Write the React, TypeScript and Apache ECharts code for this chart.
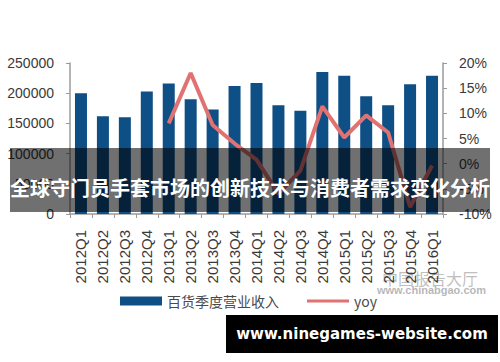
import React, { useEffect, useRef } from "react";
import * as echarts from "echarts";

const categories = [
  "2012Q1", "2012Q2", "2012Q3", "2012Q4",
  "2013Q1", "2013Q2", "2013Q3", "2013Q4",
  "2014Q1", "2014Q2", "2014Q3", "2014Q4",
  "2015Q1", "2015Q2", "2015Q3", "2015Q4", "2016Q1",
];
const revenue = [
  200000, 162000, 160000, 203000,
  216000, 190000, 173000, 212000,
  217000, 180000, 171000, 235000,
  229000, 195000, 180000, 215000, 229000,
];
const yoy = [
  null, null, null, null,
  8, 18, 7.7, 4,
  0.8, -6, -1.4, 11.4,
  5.2, 9.6, 6.2, -8.6, -0.4,
];
const seriesNames = ["百货季度营业收入", "yoy"];
const titleText = "全球守门员手套市场的创新技术与消费者需求变化分析";
const siteText = "www.ninegames-website.com";

export default function App() {
  const ref = useRef<HTMLDivElement>(null);
  useEffect(() => {
    if (!ref.current) return;
    const chart = echarts.init(ref.current, null, { renderer: "svg" });
    const axisColor = "#9a9a9a";
    const labelColor = "#3a3a3a";
    const font = "'Liberation Sans', Arial, sans-serif";
    const legendText = { color: "#4a4a4a", fontSize: 14, fontFamily: "'Noto Sans CJK SC', sans-serif" };
    chart.setOption({
      animation: false,
      backgroundColor: "#ffffff",
      grid: { left: 70, right: 57, top: 63, bottom: 148, containLabel: false },
      legend: [
        {
          left: 115,
          top: 289,
          itemWidth: 42,
          itemHeight: 9,
          textStyle: legendText,
          data: [{ name: seriesNames[0], icon: "rect" }],
        },
        {
          left: 302,
          top: 289,
          itemWidth: 42,
          itemHeight: 3,
          textStyle: legendText,
          data: [{ name: seriesNames[1], icon: "rect" }],
        },
      ],
      xAxis: {
        type: "category",
        data: categories,
        boundaryGap: true,
        axisLine: { show: true, lineStyle: { color: axisColor, width: 1.5 } },
        axisTick: { show: true, length: 4, lineStyle: { color: axisColor } },
        axisLabel: {
          rotate: 90,
          margin: 16,
          fontSize: 15,
          color: labelColor,
          fontFamily: font,
          interval: 0,
        },
      },
      yAxis: [
        {
          type: "value",
          min: 0,
          max: 250000,
          interval: 50000,
          splitLine: { show: false },
          axisLine: { show: true, lineStyle: { color: axisColor, width: 1.5 } },
          axisTick: { show: true, length: 4, lineStyle: { color: axisColor } },
          axisLabel: {
            fontSize: 14,
            color: labelColor,
            fontFamily: font,
            margin: 16,
            formatter: (v: number) => String(v),
          },
        },
        {
          type: "value",
          min: -10,
          max: 20,
          interval: 5,
          position: "right",
          splitLine: { show: false },
          axisLine: { show: true, lineStyle: { color: axisColor, width: 1.5 } },
          axisTick: { show: true, length: 4, lineStyle: { color: axisColor } },
          axisLabel: {
            fontSize: 14,
            color: labelColor,
            fontFamily: font,
            margin: 16,
            formatter: "{value}%",
          },
        },
      ],
      series: [
        {
          name: seriesNames[0],
          type: "bar",
          data: revenue,
          barWidth: 12,
          itemStyle: { color: "#0e4f86" },
        },
        {
          name: seriesNames[1],
          type: "line",
          yAxisIndex: 1,
          data: yoy,
          symbol: "none",
          connectNulls: false,
          lineStyle: { color: "#e07272", width: 4 },
          itemStyle: { color: "#e07272" },
        },
      ],
      graphic: [
        {
          type: "text",
          left: 382,
          top: 270,
          style: {
            text: "中国报告大厅",
            fill: "rgba(110,110,110,0.45)",
            font: "16px 'Noto Sans CJK SC', sans-serif",
          },
        },
        {
          type: "text",
          left: 377,
          top: 284,
          style: {
            text: "www.chinabgao.com",
            fill: "rgba(110,110,110,0.5)",
            font: "bold 11px 'Liberation Sans', Arial, sans-serif",
          },
        },
        {
          type: "rect",
          shape: { x: 10, y: 148, width: 480, height: 64 },
          style: { fill: "rgba(0,0,0,0.56)" },
          z: 100,
        },
        {
          type: "text",
          x: 250,
          y: 187,
          z: 101,
          style: {
            text: titleText,
            fill: "#ffffff",
            font: "bold 20px 'Noto Sans CJK SC', sans-serif",
            textAlign: "center",
            textVerticalAlign: "middle",
          },
        },
        {
          type: "rect",
          shape: { x: 226, y: 315, width: 272, height: 38 },
          style: { fill: "#000000" },
          z: 100,
        },
        {
          type: "text",
          x: 362,
          y: 334,
          z: 101,
          style: {
            text: siteText,
            fill: "#ffffff",
            font: "bold 15px 'DejaVu Sans', sans-serif",
            textAlign: "center",
            textVerticalAlign: "middle",
          },
        },
      ],
    });
    return () => chart.dispose();
  }, []);
  return (
    <div
      ref={ref}
      style={{ position: "fixed", left: 0, top: 0, width: 500, height: 362 }}
    />
  );
}
